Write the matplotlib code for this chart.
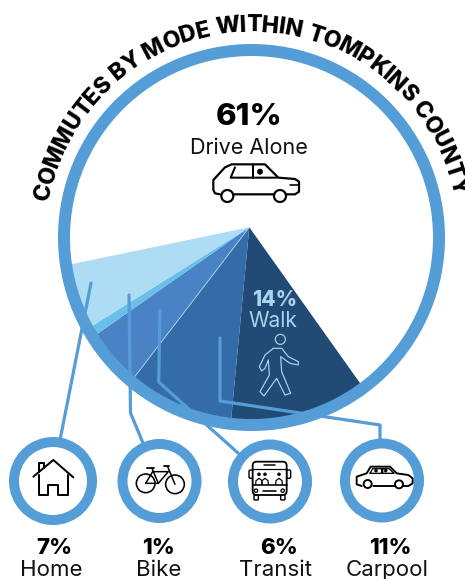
import numpy as np
import matplotlib
matplotlib.use("Agg")
import matplotlib.pyplot as plt
from matplotlib.patches import Circle, FancyBboxPatch
from matplotlib.textpath import TextPath
from matplotlib.font_manager import FontProperties

plt.rcParams["font.family"] = ["Inter", "DejaVu Sans"]

title = "COMMUTES BY MODE WITHIN TOMPKINS COUNTY"
modes = ["Walk", "Carpool", "Transit", "Bike", "Home"]
shares = [14, 11, 6, 1, 7]
drive_alone = 61
wedge_colors = ["#214a75", "#346ca9", "#4a83c4", "#68bfea", "#aedcf4"]

ring_blue = "#559dd6"
px = 0.72  # one pixel in points at dpi 100

# the slices fan out of one point, this many degrees per percent
deg_per_pct = 2.915
fan_start = 54.6

fig = plt.figure(figsize=(4.65, 5.79), dpi=100)
ax = fig.add_axes([0, 0, 1, 1])

cx, cy, r_ring = 251.5, 237.5, 187.5
apex = (249.3, 227.3)

wedges, _ = ax.pie([s * deg_per_pct / 360 for s in shares], colors=wedge_colors, startangle=fan_start,
                   radius=260, center=apex, normalize=False)
ax.set_xlim(0, 465)
ax.set_ylim(579, 0)
ax.set_aspect("equal")
ax.axis("off")

clip = Circle((cx, cy), r_ring, transform=ax.transData)
for w in wedges:
    # pie() turns clipping off on its wedges
    w.set_clip_on(True)
    w.set_clip_path(clip)
    w.set_zorder(1)

# thin light rule between carpool and transit
a = np.radians(fan_start + (shares[0] + shares[1]) * deg_per_pct)
rule, = ax.plot([apex[0], apex[0] + 260 * np.cos(a)], [apex[1], apex[1] + 260 * np.sin(a)],
                color="#b9d3ec", lw=0.6, zorder=2)
rule.set_clip_path(clip)

ax.add_patch(Circle((cx, cy), r_ring, fc="none", ec=ring_blue, lw=12 * px, zorder=4))


def stroke(pts, ox=0, oy=0, scale=1 / 3, color="black", lw=2.0, closed=False, z=6):
    pts = list(pts)
    if closed:
        pts.append(pts[0])
    xs = [ox + p[0] * scale for p in pts]
    ys = [oy + p[1] * scale for p in pts]
    ax.plot(xs, ys, color=color, lw=lw * px, zorder=z, solid_joinstyle="round", solid_capstyle="round")


def ring(x, y, r, ox=0, oy=0, scale=1 / 3, color="black", lw=2.0, fc="white", z=7):
    ax.add_patch(Circle((ox + x * scale, oy + y * scale), r * scale, fc=fc, ec=color, lw=lw * px, zorder=z))


# leader lines
leaders = [
    [(91, 283), (60, 440)],
    [(129, 295), (130.5, 413), (143, 443)],
    [(160, 310), (158.7, 382), (238, 453)],
    [(220, 338), (220, 401), (380, 425), (380, 442)],
]
for line in leaders:
    stroke(line, scale=1, color=ring_blue, lw=3.2, z=3)

# small badges
badges = [(53, 481, 39), (159.5, 481, 37), (270, 481.5, 37), (382, 480.5, 37)]
for bx, by, br in badges:
    ax.add_patch(Circle((bx, by), br, fc="white", ec=ring_blue, lw=10 * px, zorder=5))

# drive alone car
ox, oy = 200, 155
stroke([(60, 118), (45, 115), (40, 105), (40, 75), (75, 37), (95, 28), (195, 28), (235, 68), (285, 72),
        (297, 80), (297, 110), (285, 118), (222, 118), (100, 118)], ox, oy, lw=2.2)
stroke([(105, 37), (92, 68), (230, 68)], ox, oy, lw=2.0)
stroke([(160, 30), (160, 68)], ox, oy, lw=2.0)
stroke([(270, 90), (297, 90)], ox, oy, lw=1.6)
ring(180, 50, 8, ox, oy, fc="black", lw=0.5)
ring(82, 123, 18, ox, oy, lw=2.2)
ring(240, 123, 18, ox, oy, lw=2.2)

# walker
ox, oy = 240, 285
walk_c = "#a9d3ee"
ring(121, 163, 15, ox, oy, color=walk_c, lw=1.2, fc="none")
stroke([(100, 190), (75, 210), (58, 245), (65, 258), (75, 250), (85, 225), (88, 270), (60, 320), (72, 333),
        (110, 280), (135, 330), (152, 325), (125, 260), (122, 215), (150, 235), (175, 240), (175, 230),
        (145, 215), (125, 190)], ox, oy, color=walk_c, lw=1.2, closed=True)

# house
ox, oy = 20, 450
stroke([(40, 80), (100, 30), (160, 82)], ox, oy, lw=2.0)
stroke([(58, 66), (58, 40), (73, 40), (73, 54)], ox, oy, lw=2.0)
stroke([(58, 75), (58, 135), (85, 135), (85, 105), (115, 105), (115, 135), (145, 135), (145, 75)], ox, oy, lw=2.0)

# bike
ox, oy = 20, 450
ring(377, 100, 28, ox, oy, lw=1.6, fc="none")
ring(465, 103, 28, ox, oy, lw=1.6, fc="none")
stroke([(377, 100), (398, 65), (445, 65), (415, 100), (377, 100)], ox, oy, lw=1.5)
stroke([(396, 55), (415, 100)], ox, oy, lw=1.5)
stroke([(443, 50), (465, 103)], ox, oy, lw=1.5)
stroke([(382, 53), (402, 53)], ox, oy, lw=1.8)
stroke([(431, 48), (447, 48)], ox, oy, lw=1.8)

# bus
ox, oy = 240, 450
s = 1 / 3
ax.add_patch(FancyBboxPatch((ox + 38 * s, oy + 35 * s), 102 * s, 100 * s, boxstyle="round,pad=0,rounding_size=4",
                            fc="white", ec="black", lw=1.8 * px, zorder=6))
for mx in (27, 140):
    ax.add_patch(FancyBboxPatch((ox + mx * s, oy + 60 * s), 12 * s, 25 * s, boxstyle="round,pad=0,rounding_size=1.5",
                                fc="white", ec="black", lw=1.4 * px, zorder=5.5))
for wx in (42, 122):
    ax.add_patch(FancyBboxPatch((ox + wx * s, oy + 135 * s), 13 * s, 15 * s, boxstyle="round,pad=0,rounding_size=1",
                                fc="white", ec="black", lw=1.4 * px, zorder=5.5))
stroke([(72, 45), (105, 45)], ox, oy, lw=1.5)
stroke([(38, 56), (140, 56)], ox, oy, lw=1.2)
stroke([(38, 105), (140, 105)], ox, oy, lw=1.6)
stroke([(70, 122), (108, 122)], ox, oy, lw=1.6)
for hx in (57, 75, 117):
    ring(hx, 73, 4.5, ox, oy, fc="black", lw=0.5)
    stroke([(hx - 10, 103), (hx - 9, 92), (hx, 85), (hx + 9, 92), (hx + 10, 103)], ox, oy, lw=1.2)
ring(48, 122, 5, ox, oy, lw=1.3)
ring(128, 122, 5, ox, oy, lw=1.3)

# carpool car
stroke([(365, 108), (350, 103), (350, 80), (380, 70), (392, 50), (450, 50), (470, 70), (505, 75), (518, 85),
        (518, 100), (505, 108), (400, 108)], ox, oy, lw=1.9)
stroke([(390, 70), (398, 56), (425, 56), (425, 70), (390, 70)], ox, oy, lw=1.3)
stroke([(428, 56), (447, 56), (462, 70), (428, 70), (428, 56)], ox, oy, lw=1.3)
ring(408, 62, 4.5, ox, oy, fc="black", lw=0.5)
ring(437, 62, 4.5, ox, oy, fc="black", lw=0.5)
ring(383, 102, 12, ox, oy, lw=1.9)
ring(477, 103, 12, ox, oy, lw=1.9)

# labels
ax.text(249, 117, f"{drive_alone}%", ha="center", va="center", fontsize=22.5, fontweight=800, color="black")
ax.text(248.5, 147.5, "Drive Alone", ha="center", va="center", fontsize=15.5, color="#111111")
ax.text(274.5, 300, f"{shares[0]}%", ha="center", va="center", fontsize=15, fontweight=800, color=walk_c)
ax.text(272.5, 321, modes[0], ha="center", va="center", fontsize=15, color=walk_c)

label_x = {"Home": (54, 51), "Bike": (158, 159), "Transit": (279, 275), "Carpool": (390, 387)}
for m, v in zip(modes[1:], shares[1:]):
    x1, x2 = label_x[m]
    ax.text(x1, 548, f"{v}%", ha="center", va="center", fontsize=16, fontweight=800, color="black")
    ax.text(x2, 570, m, ha="center", va="center", fontsize=16, color="#111111")

# title set letter by letter along an arc
fp = FontProperties(family="Inter", weight=800, size=16.6)
word_gap = 1.5
tracking = -0.6
dot = TextPath((0, 0), ".", prop=fp).get_extents().x1


def run_length(text):
    return ((TextPath((0, 0), text + ".", prop=fp).get_extents().x1 - dot) * 100 / 72
            + word_gap * text.count(" ") + tracking * len(text))


r_base = 206
full = run_length(title)
ang = -full / r_base / 2 + np.radians(-0.8)
pos = 0.0
for i, ch in enumerate(title):
    end = run_length(title[:i + 1])
    mid = (pos + end) / 2
    pos = end
    if ch == " ":
        continue
    t = ang + mid / r_base
    ax.text(cx + r_base * np.sin(t), cy - r_base * np.cos(t), ch, fontproperties=fp, ha="center", va="baseline",
            rotation=-np.degrees(t), rotation_mode="anchor", color="black", zorder=8)

fig.savefig("out.png", dpi=100, facecolor="white")
